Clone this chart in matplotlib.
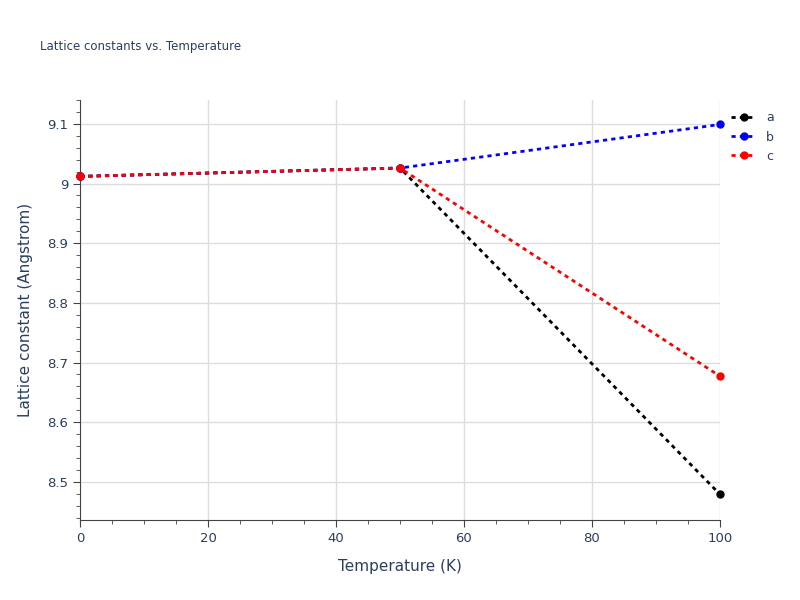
import matplotlib
matplotlib.use("Agg")
import matplotlib.pyplot as plt
from matplotlib.ticker import MultipleLocator, FuncFormatter

temps = [0, 50, 100]
a = [9.012, 9.026, 8.479]
b = [9.012, 9.026, 9.099]
c = [9.012, 9.026, 8.677]

fig = plt.figure(figsize=(8, 6), dpi=100)
ax = fig.add_axes([0.1, 0.1333, 0.8, 0.7])
for y, col, lab in [(a, "black", "a"), (b, "blue", "b"), (c, "red", "c")]:
    ax.plot(temps, y, linestyle=(0, (1.5, 1.5)), color=col, lw=2, marker="o", ms=5, label=lab, clip_on=False, zorder=3)
ax.set_xlim(0, 100)
ax.set_ylim(8.436, 9.14)
ax.xaxis.set_major_locator(MultipleLocator(20))
ax.xaxis.set_minor_locator(MultipleLocator(5))
ax.yaxis.set_major_locator(MultipleLocator(0.1))
ax.yaxis.set_minor_locator(MultipleLocator(0.02))
ax.yaxis.set_major_formatter(FuncFormatter(lambda v, p: f"{v:.1f}" if abs(v-round(v))>1e-6 else f"{int(round(v))}"))
ax.grid(True, which="major", color="#dddddd", lw=1)
for s in ["top", "right"]:
    ax.spines[s].set_visible(False)
for s in ["left", "bottom"]:
    ax.spines[s].set_color("#444444")
ax.tick_params(which="both", direction="out", colors="#444444", labelcolor="#2a3f5f", labelsize=9.5)
ax.tick_params(which="major", length=5)
ax.tick_params(which="minor", length=3)
ax.set_xlabel("Temperature (K)", color="#2a3f5f", fontsize=11, labelpad=10)
ax.set_ylabel("Lattice constant (Angstrom)", color="#2a3f5f", fontsize=11, labelpad=10)
fig.text(0.05, 0.917, "Lattice constants vs. Temperature", fontsize=8.5, color="#2a3f5f")
leg = ax.legend(loc="upper left", bbox_to_anchor=(1.0, 1.0), frameon=False, fontsize=9,
                handlelength=2, labelspacing=0.5)
for t in leg.get_texts():
    t.set_color("#2a3f5f")
fig.savefig("out.png")
